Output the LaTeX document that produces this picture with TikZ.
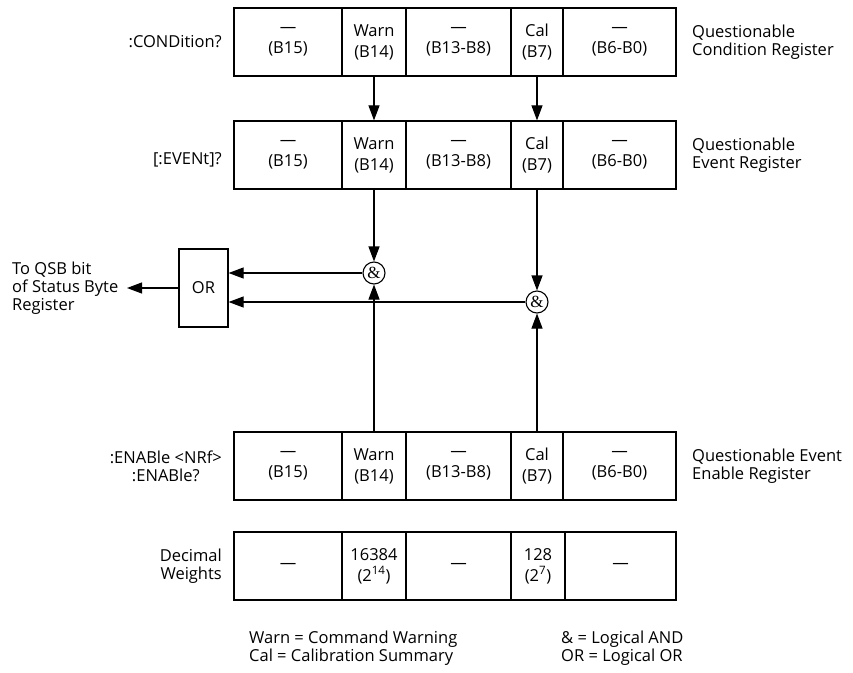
\documentclass[tikz,border=0pt]{standalone}
\usepackage{fontspec}
\setmainfont{Open Sans}
\newfontfamily\ampfont{Liberation Serif}
\usetikzlibrary{arrows.meta}
\begin{document}
\begin{tikzpicture}[x=1pt,y=-1pt,
  txt/.style={font=\fontsize{16.5}{18}\selectfont, inner sep=0pt},
  cell/.style={draw, line width=1.2pt, inner sep=0pt, align=center, minimum height=68pt,
     font=\fontsize{16.5}{21}\selectfont},
  wA/.style={cell, minimum width=108pt},
  wB/.style={cell, minimum width=64pt},
  wC/.style={cell, minimum width=105pt},
  wD/.style={cell, minimum width=52pt},
  wE/.style={cell, minimum width=113pt},
  gate/.style={circle, draw, line width=1.1pt, minimum size=22pt, inner sep=0pt, fill=white,
     font=\ampfont\fontsize{17}{17}\selectfont},
  orbox/.style={draw, line width=1.2pt, minimum width=49pt, minimum height=78pt, inner sep=0pt,
     font=\fontsize{16.5}{18}\selectfont},
  arr/.style={line width=1.1pt, -{Triangle[length=15pt,width=11pt]}},
  lbl/.style={txt, align=right},
  rlbl/.style={txt, align=left, anchor=west}
]
\useasboundingbox (0,0) rectangle (853,672);

% Row 1: Condition
\node[wA] (a1) at (288,42) {—\\(B15)};
\node[wB] (b1) at (374,42) {Warn\\(B14)};
\node[wC] (c1) at (458.5,42) {—\\(B13-B8)};
\node[wD] (d1) at (537,42) {Cal\\(B7)};
\node[wE] (e1) at (619.5,42) {—\\(B6-B0)};
% Row 2: Event
\node[wA] (a2) at (288,155) {—\\(B15)};
\node[wB] (b2) at (374,155) {Warn\\(B14)};
\node[wC] (c2) at (458.5,155) {—\\(B13-B8)};
\node[wD] (d2) at (537,155) {Cal\\(B7)};
\node[wE] (e2) at (619.5,155) {—\\(B6-B0)};
% Row 3: Enable
\node[wA] (a3) at (288,466) {—\\(B15)};
\node[wB] (b3) at (374,466) {Warn\\(B14)};
\node[wC] (c3) at (458.5,466) {—\\(B13-B8)};
\node[wD] (d3) at (537,466) {Cal\\(B7)};
\node[wE] (e3) at (619.5,466) {—\\(B6-B0)};
% Row 4: Decimal weights
\node[wA] (a4) at (288,566) {—};
\node[wB] (b4) at (374,566) {16384\\(2\textsuperscript{14})};
\node[wC] (c4) at (458.5,566) {—};
\node[cell, minimum width=54pt] (d4) at (538,566) {128\\(2\textsuperscript{7})};
\node[cell, minimum width=111pt] (e4) at (620.5,566) {—};

% Left labels
\node[lbl, anchor=east] (lc) at (222,42) {:CONDition?};
\node[lbl, anchor=east] (le) at (222,160) {[:EVENt]?};
\node[txt, align=center, anchor=east] (ln) at (222,466) {:ENABle <NRf>\\:ENABle?};
\node[lbl, anchor=east] (ld) at (222,566) {Decimal\\Weights};

% Right labels
\node[rlbl] (rc) at (692,42) {Questionable\\Condition Register};
\node[rlbl] (re) at (692,155) {Questionable\\Event Register};
\node[rlbl] (rn) at (692,466) {Questionable Event\\Enable Register};

% Gates
\node[gate] (and1) at (374,273) {\&};
\node[gate] (and2) at (537,302) {\&};
\node[orbox] (or) at (203.5,288) {OR};
\node[rlbl] (qsb) at (12,288) {To QSB bit\\of Status Byte\\Register};
\coordinate (qsbend) at (127,288);

% Connectors
\draw[arr] (b1.south) -- (b2.north);
\draw[arr] (d1.south) -- (d2.north);
\draw[arr] (b2.south) -- (and1.north);
\draw[arr] (d2.south) -- (and2.north);
\draw[arr] (b3.north) -- (and1.south);
\draw[arr] (d3.north) -- (and2.south);
\draw[arr] (and1.west) -- (or.east |- and1.west);
\draw[arr] (and2.west) -- (or.east |- and2.west);
\draw[arr] (or.west) -- (qsbend);

% Legend
\node[rlbl] (lg1) at (249,648) {Warn = Command Warning\\Cal = Calibration Summary};
\node[rlbl] (lg2) at (561,648) {\& = Logical AND\\OR = Logical OR};
\end{tikzpicture}
\end{document}
